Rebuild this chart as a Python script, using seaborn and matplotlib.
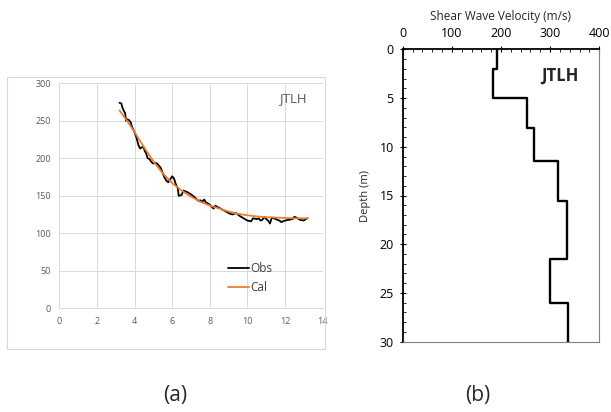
import numpy as np
import pandas as pd
import matplotlib
matplotlib.use("Agg")
import matplotlib.pyplot as plt
from matplotlib.ticker import MultipleLocator
import seaborn as sns

sns.set_theme(style="white")
plt.rcParams['font.family'] = ['Open Sans', 'DejaVu Sans']

# ---- Panel (a) data: dispersion curve ----
obs_x = [3.2, 3.3, 3.35, 3.4, 3.5, 3.55, 3.6, 3.7, 3.8, 3.85, 3.9, 4.0, 4.05, 4.1, 4.2,
         4.3, 4.4, 4.5, 4.55, 4.6, 4.7, 4.8, 4.85, 4.9, 5.0, 5.1, 5.2, 5.3, 5.4, 5.5,
         5.6, 5.7, 5.8, 5.85, 5.9, 6.0, 6.1, 6.2, 6.3, 6.35, 6.5, 6.6, 6.7, 6.8, 7.0,
         7.1, 7.2, 7.4, 7.5, 7.6, 7.7, 7.8, 7.9, 8.0, 8.2, 8.3, 8.4, 8.5, 8.7, 8.8,
         9.0, 9.2, 9.4, 9.6, 9.8, 10.0, 10.2, 10.3, 10.5, 10.6, 10.7, 10.8, 10.9,
         11.0, 11.1, 11.2, 11.3, 11.5, 11.7, 11.8, 12.0, 12.2, 12.4, 12.5, 12.6,
         12.8, 13.0, 13.1, 13.2]
obs_y = [274, 273, 268, 265, 260, 250, 252, 251, 248, 243, 240, 235, 231, 228, 218,
         213, 215, 214, 209, 208, 200, 199, 197, 195, 193, 194, 193, 190, 187, 180,
         174, 170, 168, 171, 172, 176, 173, 165, 160, 150, 151, 157, 156, 155, 152,
         150, 148, 143, 144, 142, 145, 141, 140, 138, 133, 137, 135, 134, 131, 130,
         127, 125, 127, 123, 120, 117, 116, 120, 119, 120, 117, 118, 122,
         119, 117, 113, 121, 119, 117, 115, 117, 118, 119, 122, 121,
         118, 117, 119, 120]
cal_x = [3.2, 3.6, 4.0, 4.5, 5.0, 5.5, 6.0, 6.5, 7.0, 7.5, 8.0, 8.5, 9.0, 9.5,
         10.0, 10.5, 11.0, 11.5, 12.0, 12.5, 13.0, 13.2]
cal_y = [264, 250, 235, 215, 196, 180, 167, 157, 149, 142, 137, 133, 129, 126,
         124, 122.5, 121.5, 121, 120.5, 120, 120, 120]

# ---- Panel (b) data: Vs profile ----
layer_top = [0, 2, 5, 8.1, 11.5, 15.6, 21.5, 26]
layer_bot = [2, 5, 8.1, 11.5, 15.6, 21.5, 26, 30]
layer_vs = [192, 183, 252, 268, 315, 334, 300, 336]

fig = plt.figure(figsize=(6.11, 4.12), dpi=100)

# outer chart-area border for panel (a)
fig.patches.append(plt.Rectangle((7 / 611, 1 - 349 / 412), (325 - 7) / 611, (349 - 77) / 412,
                                 transform=fig.transFigure, fill=False,
                                 edgecolor='#d9d9d9', linewidth=0.8))

ax1 = fig.add_axes([59.3 / 611, 1 - 308.3 / 412, (322.6 - 59.3) / 611, (308.3 - 83.3) / 412])
df_obs = pd.DataFrame({'x': obs_x, 'y': obs_y})
df_cal = pd.DataFrame({'x': cal_x, 'y': cal_y})
sns.lineplot(data=df_obs, x='x', y='y', ax=ax1, color='black', lw=1.3, label='Obs', sort=False)
sns.lineplot(data=df_cal, x='x', y='y', ax=ax1, color='#ED7D31', lw=1.3, label='Cal', sort=False)
ax1.set_xlim(0, 14)
ax1.set_ylim(0, 300)
ax1.set_xticks(range(0, 15, 2))
ax1.set_yticks(range(0, 301, 50))
ax1.grid(True, color='#d9d9d9', lw=0.7)
ax1.set_xlabel('')
ax1.set_ylabel('')
for s in ['top', 'right']:
    ax1.spines[s].set_visible(False)
for s in ['left', 'bottom']:
    ax1.spines[s].set_color('#d9d9d9')
    ax1.spines[s].set_linewidth(0.7)
ax1.tick_params(axis='both', labelsize=6.5, labelcolor='#595959', length=0, pad=6)
ax1.text(12.4, 279, 'JTLH', fontsize=9.5, color='#595959', ha='center', va='center')
leg = ax1.legend(loc='center left', bbox_to_anchor=(0.6, 0.135), frameon=False,
                 fontsize=8.5, handlelength=1.8, handletextpad=0.1, labelspacing=0.55)
for t in leg.get_texts():
    t.set_color('#404040')

# ---- Panel (b) ----
ax2 = fig.add_axes([402.7 / 611, 1 - 341.7 / 412, (599.3 - 402.7) / 611, (341.7 - 49.3) / 412])
px, py = [], []
for t, b, v in zip(layer_top, layer_bot, layer_vs):
    px += [v, v]
    py += [t, b]
df_prof = pd.DataFrame({'vs': px, 'depth': py})
sns.lineplot(data=df_prof, x='vs', y='depth', ax=ax2, color='black', lw=1.7, sort=False,
             estimator=None)
ax2.set_xlim(0, 400)
ax2.set_ylim(30, 0)
ax2.xaxis.set_ticks_position('top')
ax2.xaxis.set_label_position('top')
ax2.set_xticks([0, 100, 200, 300, 400])
ax2.set_yticks([0, 5, 10, 15, 20, 25, 30])
ax2.xaxis.set_minor_locator(MultipleLocator(20))
ax2.yaxis.set_minor_locator(MultipleLocator(1))
ax2.tick_params(axis='both', which='major', direction='inout', length=5, width=0.8,
                labelsize=9, colors='black', pad=4)
ax2.tick_params(axis='both', which='minor', direction='in', length=2.5, width=0.7)
ax2.tick_params(axis='x', which='both', top=True, bottom=False)
ax2.tick_params(axis='y', which='both', left=True, right=False)
ax2.set_xlabel('Shear Wave Velocity (m/s)', fontsize=8.5, labelpad=5)
ax2.set_ylabel('Depth (m)', fontsize=8, labelpad=6)
for s in ['top', 'left']:
    ax2.spines[s].set_color('black')
    ax2.spines[s].set_linewidth(1.3)
for s in ['bottom', 'right']:
    ax2.spines[s].set_color('#808080')
    ax2.spines[s].set_linewidth(0.8)
ax2.text(320, 2.7, 'JTLH', fontsize=12, fontweight='bold', ha='center', va='center')

fig.text(175 / 611, 1 - 395 / 412, '(a)', fontsize=15, ha='center', va='center')
fig.text(478 / 611, 1 - 395 / 412, '(b)', fontsize=15, ha='center', va='center')

fig.savefig('out.png', dpi=100)
